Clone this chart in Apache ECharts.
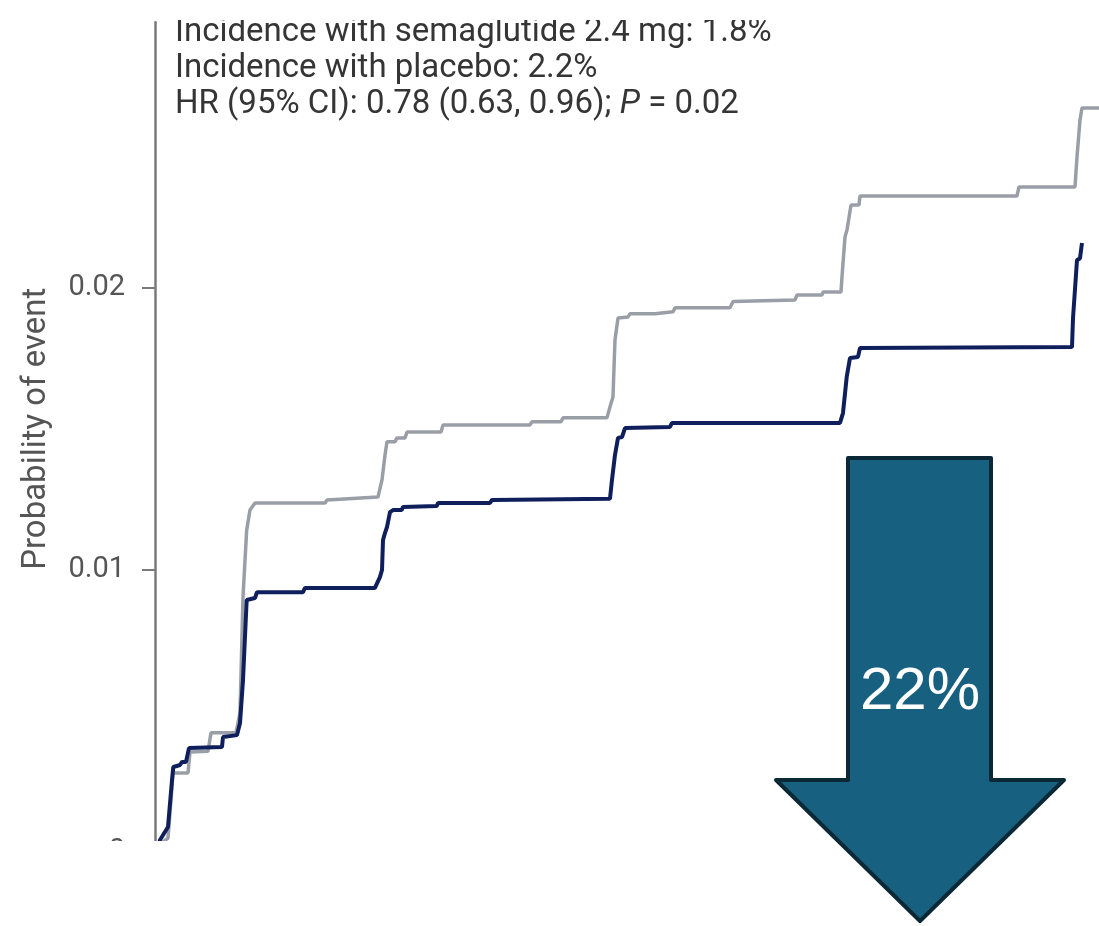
<!DOCTYPE html>
<html>
<head>
<meta charset="utf-8">
<script src="https://cdn.jsdelivr.net/npm/echarts@6/dist/echarts.min.js"></script>
<style>
  html, body { margin: 0; padding: 0; background: #ffffff; }
  #chart { width: 1099px; height: 926px; }
</style>
</head>
<body>
<div id="chart"></div>
<script>
// Cumulative incidence curves: [time (weeks), probability of event]
const placeboCurve = [
  [0, 0], [0.66, 0.00019], [2.86, 0.00047], [3.53, 0.00182], [3.97, 0.00278], [7.27, 0.00278],
  [7.71, 0.00352], [11.68, 0.00355], [12.34, 0.0042], [17.85, 0.0042], [18.73, 0.00491],
  [19.39, 0.00902], [20.2, 0.01139], [20.93, 0.0121], [22.03, 0.01235], [37.46, 0.01235],
  [37.9, 0.01246], [49.13, 0.01256], [50.02, 0.01317], [50.68, 0.01405], [51.12, 0.01452],
  [52.88, 0.01452], [53.32, 0.01466], [55.09, 0.01466], [55.53, 0.01487], [63.02, 0.01487],
  [63.46, 0.01512], [82.63, 0.01512], [83.07, 0.01523], [89.46, 0.01523], [89.9, 0.01537],
  [99.59, 0.01537], [100.25, 0.01576], [100.91, 0.01611], [101.35, 0.01813], [102.02, 0.01891],
  [104.22, 0.01895], [104.66, 0.01906], [110.17, 0.01906], [110.61, 0.01913], [114.13, 0.01913],
  [114.58, 0.01927], [126.69, 0.01927], [127.36, 0.0195], [141.02, 0.01955], [141.46, 0.01973],
  [146.97, 0.01973], [147.19, 0.01983], [151.15, 0.01983], [151.37, 0.02037], [152.03, 0.02178],
  [152.47, 0.02203], [153.36, 0.02292], [155.12, 0.02292], [155.34, 0.02324], [189.93, 0.02324],
  [190.37, 0.02356], [202.71, 0.02356], [203.15, 0.02462], [203.59, 0.02469], [203.81, 0.02593],
  [204.25, 0.02636], [208, 0.02636]
];

const semaglutideCurve = [
  [0, 0], [0.66, 0.00019], [1.1, 0.0004], [2.86, 0.00086], [3.75, 0.00253], [4.03, 0.00299],
  [5.51, 0.00306], [5.95, 0.00317], [6.83, 0.00317], [7.49, 0.00366], [14.76, 0.0037],
  [14.98, 0.00405], [18.07, 0.00412], [18.73, 0.00455], [19.39, 0.00607], [20.2, 0.00891],
  [20.49, 0.00898], [22.03, 0.00898], [22.47, 0.00919], [32.61, 0.00919], [33.05, 0.00934],
  [48.47, 0.00934], [49.58, 0.00973], [50.02, 0.00998], [50.24, 0.01104], [50.68, 0.01129],
  [51.12, 0.0115], [51.78, 0.01203], [52.44, 0.0121], [54.36, 0.0121], [54.64, 0.01221],
  [62.07, 0.01224], [62.36, 0.01235], [73.81, 0.01235], [74.25, 0.01246], [100.25, 0.0125],
  [100.69, 0.01317], [101.35, 0.01405], [102.02, 0.01466], [102.9, 0.01469], [103.56, 0.01501],
  [113.47, 0.01505], [113.91, 0.01519], [150.93, 0.01519], [151.59, 0.01554], [152.41, 0.01682],
  [153.13, 0.01749], [154.9, 0.01753], [155.34, 0.01785], [202.05, 0.01788], [202.27, 0.0189],
  [203.15, 0.02096], [203.81, 0.02103], [204.25, 0.02157]
];

const yTicks = [0, 0.01, 0.02];
const yTitle = 'Probability of event';
const incidenceSema = 1.8;   // %
const incidencePlacebo = 2.2; // %
const hazardRatio = 0.78;
const hrCiLow = 0.63;
const hrCiHigh = 0.96;
const pValue = 0.02;

// relative risk reduction shown in the arrow
const reductionLabel = Math.round((1 - hazardRatio) * 100) + '%';

const chart = echarts.init(document.getElementById('chart'), null, { renderer: 'canvas' });

const textFont = 'Roboto, "Liberation Sans", sans-serif';
const statColor = '#353535';
const statSize = 33;

chart.setOption({
  animation: false,
  backgroundColor: '#ffffff',
  grid: { left: 155, right: 0, top: 22.2, bottom: 74.7, containLabel: false },
  xAxis: {
    type: 'value', min: 0, max: 208, show: false
  },
  yAxis: {
    type: 'value', min: 0, max: 0.0294, interval: 0.01,
    name: yTitle, nameLocation: 'middle', nameRotate: 90, nameGap: 102,
    nameTextStyle: { fontFamily: textFont, fontSize: 33, color: '#555555', padding: [0, 0, 0, 16] },
    axisLine: { show: true, lineStyle: { color: '#7a7a7a', width: 2.5 } },
    axisTick: { show: true, length: 13, lineStyle: { color: '#7a7a7a', width: 2 }, customValues: yTicks },
    axisLabel: {
      margin: 30, fontFamily: textFont, fontSize: 29, color: '#555555',
      customValues: yTicks,
      formatter: v => (v === 0 ? '0' : v.toFixed(2))
    },
    splitLine: { show: false }
  },
  series: [
    {
      name: 'Placebo', type: 'line', data: placeboCurve, showSymbol: false,
      lineStyle: { color: '#9a9ea6', width: 3.5 }, z: 2
    },
    {
      name: 'Semaglutide 2.4 mg', type: 'line', data: semaglutideCurve, showSymbol: false,
      lineStyle: { color: '#0f1f5c', width: 4 }, z: 3
    }
  ],
  graphic: [
    {
      type: 'text', z: 60, left: 175, top: 16,
      style: {
        text: 'Incidence with semaglutide 2.4 mg: ' + incidenceSema.toFixed(1) + '%',
        font: statSize + 'px ' + textFont, fill: statColor
      }
    },
    {
      type: 'text', z: 60, left: 175, top: 52,
      style: {
        text: 'Incidence with placebo: ' + incidencePlacebo.toFixed(1) + '%',
        font: statSize + 'px ' + textFont, fill: statColor
      }
    },
    {
      type: 'text', z: 60, left: 175, top: 88,
      style: {
        text: 'HR (95% CI): ' + hazardRatio.toFixed(2) + ' (' + hrCiLow.toFixed(2) + ', ' + hrCiHigh.toFixed(2) + '); {i|P} = ' + pValue.toFixed(2),
        font: statSize + 'px ' + textFont, fill: statColor,
        rich: { i: { fontStyle: 'italic', fontSize: statSize, fontFamily: textFont, fill: statColor } }
      }
    },
    // white bands trimming the panel at the top and below the plotted range
    { type: 'rect', z: 65, silent: true, shape: { x: 0, y: 0, width: 1099, height: 20 }, style: { fill: '#ffffff' } },
    { type: 'rect', z: 65, silent: true, shape: { x: 0, y: 841, width: 1099, height: 85 }, style: { fill: '#ffffff' } },
    {
      type: 'polygon', z: 70,
      shape: { points: [[848, 458], [991, 458], [991, 780], [1064, 780], [920, 921], [776, 780], [848, 780]] },
      style: { fill: '#17607f', stroke: '#0a2836', lineWidth: 4, lineJoin: 'round' }
    },
    {
      type: 'text', z: 71, x: 920, y: 692,
      style: {
        text: reductionLabel, font: '60px "Liberation Sans", Arial, sans-serif',
        fill: '#ffffff', align: 'center', verticalAlign: 'middle'
      }
    }
  ]
});
</script>
</body>
</html>
